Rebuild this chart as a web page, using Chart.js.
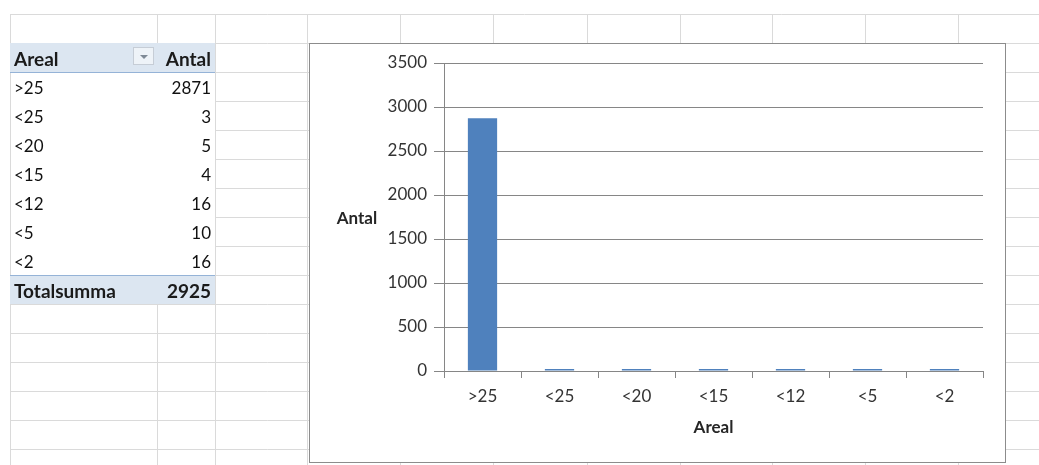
<!DOCTYPE html>
<html>
<head>
<meta charset="utf-8">
<script src="https://cdn.jsdelivr.net/npm/chart.js@4.4.1/dist/chart.umd.min.js"></script>
<style>
  html, body { margin: 0; padding: 0; background: #fff; }
  body { width: 1039px; height: 465px; position: relative; overflow: hidden; font-family: Lato, "Open Sans", sans-serif; }
  #grid { position: absolute; left: 0; top: 0; }
  .cell { position: absolute; height: 29px; line-height: 31px; font-size: 17px; color: #111; white-space: nowrap; }
  .lbl { left: 14px; }
  .val { left: 140px; width: 71px; text-align: right; }
  .bold { font-weight: bold; font-size: 19px; color: #1a1a1a; }
  .band { position: absolute; left: 10px; width: 205px; height: 29px; background: #dce6f1; }
  #dd { position: absolute; left: 133px; top: 47px; width: 21px; height: 18px; border: 1px solid #c6cdd6; background: #eef3f8; box-sizing: border-box; }
  #dd:after { content: ""; position: absolute; left: 6px; top: 7px; border-left: 4px solid transparent; border-right: 4px solid transparent; border-top: 4px solid #7f8a96; }
  #box { position: absolute; left: 309px; top: 43px; width: 697px; height: 420px; border: 1px solid #8c8c8c; box-sizing: border-box; background: #fff; }
  #chart { display: block; }
</style>
</head>
<body>
<canvas id="grid" width="1039" height="465"></canvas>
<div id="table"></div>
<div id="box"><canvas id="chart" width="695" height="418"></canvas></div>
<script>
// pivot data (Areal -> Antal)
const categories = ['>25', '<25', '<20', '<15', '<12', '<5', '<2'];
const counts = [2871, 3, 5, 4, 16, 10, 16];
const yTicks = [0, 500, 1000, 1500, 2000, 2500, 3000, 3500];
const headerLabel = 'Areal';
const headerValue = 'Antal';
const totalLabel = 'Totalsumma';

// spreadsheet grid behind everything
const colX = [10, 157, 215, 307, 400, 493, 587, 680, 772, 865, 958, 1051];
const rowY = [14, 43, 72, 101, 130, 159, 188, 217, 246, 275, 304, 333, 362, 391, 420, 449, 478];
const g = document.getElementById('grid').getContext('2d');
g.strokeStyle = '#dadada';
g.lineWidth = 1;
colX.forEach(x => {
    g.beginPath();
    if (x === 157) {
        // hidden inside the pivot table
        g.moveTo(x + 0.5, 14); g.lineTo(x + 0.5, 43);
        g.moveTo(x + 0.5, 304); g.lineTo(x + 0.5, 465);
    } else {
        g.moveTo(x + 0.5, 14); g.lineTo(x + 0.5, 465);
    }
    g.stroke();
});
rowY.forEach(y => {
    g.beginPath();
    if (y > 43 && y < 304) {
        g.moveTo(215, y + 0.5);
    } else {
        g.moveTo(10, y + 0.5);
    }
    g.lineTo(1039, y + 0.5);
    g.stroke();
});

// pivot table text
const table = document.getElementById('table');
const addCell = (cls, top, text) => {
    let d = document.createElement('div');
    d.className = cls;
    d.style.top = top + 'px';
    d.textContent = text;
    table.appendChild(d);
};
const addBand = (top) => {
    let d = document.createElement('div');
    d.className = 'band';
    d.style.top = top + 'px';
    table.appendChild(d);
};
addBand(43);
addBand(275);
let line1 = document.createElement('div');
line1.style.cssText = 'position:absolute;left:10px;top:72px;width:205px;height:1px;background:#95b3d7';
table.appendChild(line1);
let line2 = document.createElement('div');
line2.style.cssText = 'position:absolute;left:10px;top:275px;width:205px;height:1px;background:#95b3d7';
table.appendChild(line2);
let dd = document.createElement('div');
dd.id = 'dd';
table.appendChild(dd);
addCell('cell lbl bold', 43, headerLabel);
addCell('cell val bold', 43, headerValue);
categories.forEach((c, i) => {
    addCell('cell lbl', 72 + i * 29, c);
    addCell('cell val', 72 + i * 29, counts[i]);
});
addCell('cell lbl bold', 275, totalLabel);
addCell('cell val bold', 275, counts.reduce((a, b) => a + b, 0));

// axis titles drawn horizontally like Excel does
const axisTitles = {
    id: 'axisTitles',
    afterDraw(chart) {
        const ctx = chart.ctx;
        const a = chart.chartArea;
        ctx.save();
        ctx.fillStyle = '#262626';
        ctx.font = 'bold 17px Lato, sans-serif';
        ctx.textAlign = 'center';
        ctx.textBaseline = 'middle';
        ctx.fillText(headerValue, a.left - 87, (a.top + a.bottom) / 2 + 2);
        ctx.fillText(headerLabel, (a.left + a.right) / 2, a.bottom + 57);
        ctx.restore();
    }
};

const axisGray = '#868686';
new Chart(document.getElementById('chart').getContext('2d'), {
    type: 'bar',
    data: {
        labels: categories,
        datasets: [{
            label: headerValue,
            data: counts,
            backgroundColor: '#4f81bd',
            borderWidth: 0,
            minBarLength: 2,
            barPercentage: 0.38,
            categoryPercentage: 1
        }]
    },
    options: {
        responsive: false,
        animation: false,
        layout: { padding: { top: 19, right: 22, left: 0, bottom: 0 } },
        plugins: { legend: { display: false }, tooltip: { enabled: false } },
        scales: {
            x: {
                offset: true,
                grid: { offset: true, drawOnChartArea: false, drawTicks: true, tickLength: 7, color: axisGray },
                border: { color: axisGray },
                ticks: { color: '#333', font: { family: 'Lato', size: 17 }, padding: 8, maxRotation: 0 },
                afterFit: (s) => { s.height = 91; }
            },
            y: {
                min: yTicks[0],
                max: yTicks[yTicks.length - 1],
                afterBuildTicks: (s) => { s.ticks = yTicks.map(v => ({ value: v })); },
                grid: { color: axisGray, tickLength: 10 },
                border: { color: axisGray },
                ticks: { color: '#333', font: { family: 'Lato', size: 17 }, padding: 7, callback: (v) => String(v) },
                afterFit: (s) => { s.width = 134; }
            }
        }
    },
    plugins: [axisTitles]
});
</script>
</body>
</html>
